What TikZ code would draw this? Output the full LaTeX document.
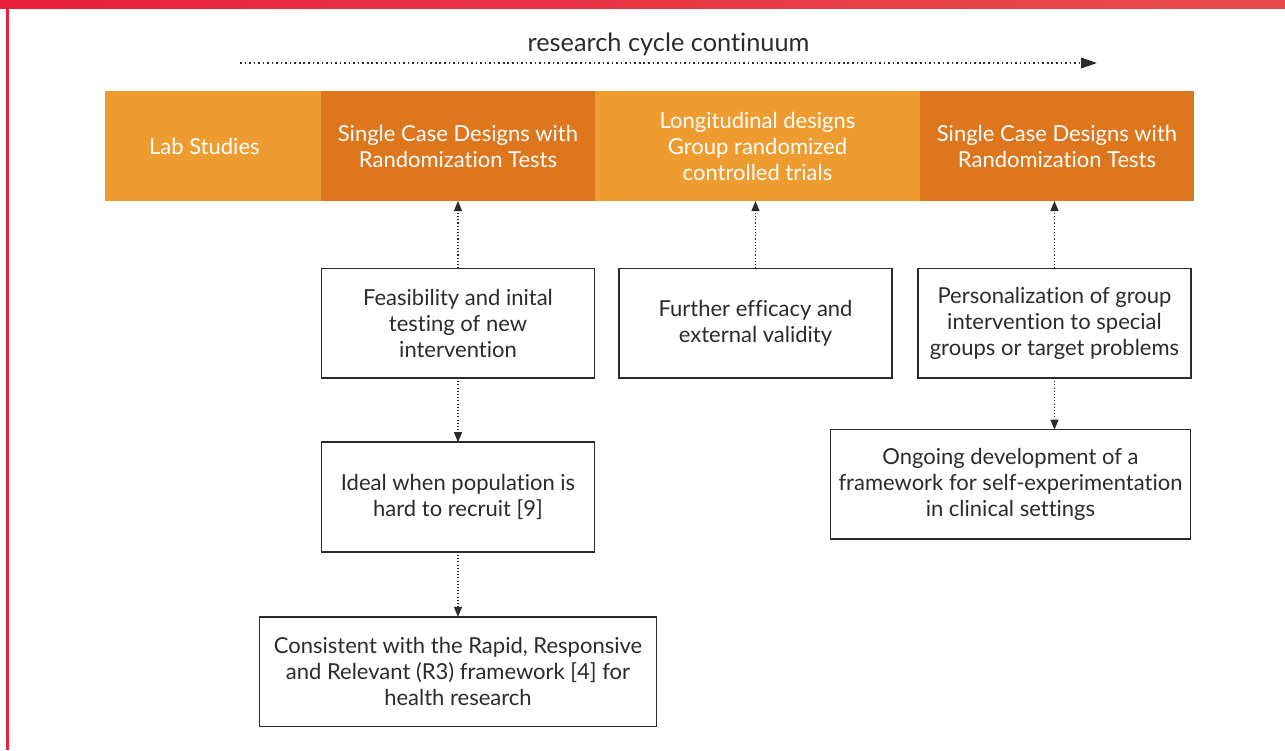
\documentclass[tikz,border=0pt]{standalone}
\usepackage{fontspec}
\setmainfont{Lato}[Ligatures=NoCommon]
\usetikzlibrary{positioning,arrows.meta}
\definecolor{barlight}{HTML}{EE9C2F}
\definecolor{bardark}{HTML}{DD761D}
\definecolor{framered}{HTML}{E8203C}
\definecolor{framered2}{HTML}{E84D4E}
\definecolor{textgray}{HTML}{2B2B2B}
\tikzset{
  stage/.style={rectangle, fill=#1, text=white, align=center, minimum height=82.5pt, inner sep=0pt, outer sep=0pt, font=\fontsize{16.5}{19.5}\selectfont},
  note/.style={rectangle, draw=textgray, line width=1.2pt, fill=white, align=center, minimum width=205pt, minimum height=82.2pt, inner sep=0pt, outer sep=0pt, text=textgray, font=\fontsize{16.5}{19.5}\selectfont},
  link/.style={-{Triangle[length=7.5pt,width=6pt]}, textgray, line width=0.8pt, dash pattern=on 0.8pt off 1.6pt}
}
\begin{document}
\begin{tikzpicture}
    \useasboundingbox (0,0) rectangle (963.75pt,-562.5pt);
    % Frame
    \fill [left color=framered, right color=framered2] (0,0) rectangle (963.75pt,-6pt);
    \fill [framered] (4.5pt,0) rectangle (6.75pt,-562.5pt);
    % Stages
    \node (lab) [stage=barlight, minimum width=162pt, anchor=north west] at (78.75pt,-68.25pt) {Lab Studies\hspace*{13pt}};
    \node (scdA) [stage=bardark, minimum width=205.5pt, right=0pt of lab] {Single Case Designs with\\Randomization Tests};
    \node (longi) [stage=barlight, minimum width=243.75pt, right=0pt of scdA] {Longitudinal designs\\Group randomized\\controlled trials};
    \node (scdB) [stage=bardark, minimum width=205.5pt, right=0pt of longi] {Single Case Designs with\\Randomization Tests};
    % Notes
    \node (feas) [note, below=50.5pt of scdA] {Feasibility and inital\\testing of new\\intervention};
    \node (further) [note, below=50.5pt of longi, xshift=-1.5pt] {Further efficacy and\\external validity};
    \node (person) [note, below=50.5pt of scdB, xshift=-1.9pt] {Personalization of group\\intervention to special\\groups or target problems};
    \node (ideal) [note, below=48.2pt of feas] {Ideal when population is\\hard to recruit [9]};
    \node (consist) [note, minimum width=297.5pt, below=48.8pt of ideal] {Consistent with the Rapid, Responsive\\and Relevant (R3) framework [4] for\\health research};
    \node (ongoing) [note, minimum width=269.8pt, below=38.8pt of person, xshift=-33pt] {Ongoing development of a\\framework for self-experimentation\\in clinical settings};
    % Arrows
    \coordinate (cycstart) at (180pt,-47.25pt);
    \coordinate (cycend) at (822.75pt,-47.25pt);
    \draw [link, -{Triangle[length=12pt,width=8pt]}, line width=1.2pt, dash pattern=on 1.2pt off 2.2pt] (cycstart) -- (cycend) node (cycle) [midway, above=1.5pt, text=textgray, font=\fontsize{19}{22}\selectfont] {research cycle continuum};
    \draw [link] (feas.north) -- (feas.north |- scdA.south);
    \draw [link] (further.north) -- (further.north |- longi.south);
    \draw [link] (person.north) -- (person.north |- scdB.south);
    \draw [link] (feas) -- (ideal);
    \draw [link] (ideal) -- (consist);
    \draw [link] (person.south) -- (person.south |- ongoing.north);
\end{tikzpicture}
\end{document}
